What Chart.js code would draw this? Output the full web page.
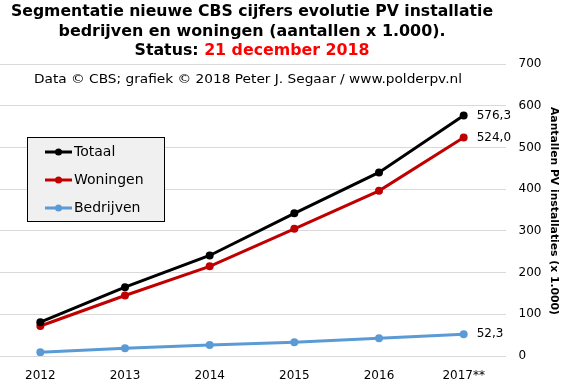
<!DOCTYPE html>
<html>
<head>
<meta charset="utf-8">
<script src="https://cdn.jsdelivr.net/npm/chart.js@4.4.1/dist/chart.umd.min.js"></script>
<style>
html, body { margin: 0; padding: 0; background: #fff; }
#wrap { position: relative; width: 567px; height: 387px; overflow: hidden; }
#box { position: absolute; left: -6px; top: 0; width: 573px; height: 387px; }
</style>
</head>
<body>
<div id="wrap"><div id="box"><canvas id="chart"></canvas></div></div>
<script>
// data (x 1.000)
var years = ["2012", "2013", "2014", "2015", "2016", "2017**"];
var totaal = [81, 165, 241, 342, 440, 576.3];
var woningen = [72, 145, 215, 305, 396, 524.0];
var bedrijven = [9, 18.5, 26.4, 33, 42.4, 52.3];
var seriesNames = ["Totaal", "Woningen", "Bedrijven"];
var seriesColors = ["#000000", "#c00000", "#5b9bd5"];

var titleLine1 = "Segmentatie nieuwe CBS cijfers evolutie PV installatie";
var titleLine2 = "bedrijven en woningen (aantallen x 1.000).";
var titleStatus = "Status: ";
var titleDate = "21 december 2018";
var subTitle = "Data \u00a9 CBS; grafiek \u00a9 2018 Peter J. Segaar / www.polderpv.nl";
var yTitle = "Aantallen PV installaties (x 1.000)";

var FONT = "'DejaVu Sans', Verdana, sans-serif";
var SHIFT = 6; // canvas sits 6px left of the page

// draw text squeezed horizontally to a target width
function fitText(ctx, parts, cx, cy, size, weight, width) {
    ctx.save();
    ctx.font = weight + " " + size + "px " + FONT;
    var total = 0;
    parts.forEach(function (p) { total += ctx.measureText(p[0]).width; });
    var sx = width / total;
    ctx.translate(cx - width / 2, cy);
    ctx.scale(sx, 1);
    ctx.textBaseline = "middle";
    ctx.textAlign = "left";
    var x = 0;
    parts.forEach(function (p) {
        ctx.fillStyle = p[1];
        ctx.fillText(p[0], x, 0);
        x += ctx.measureText(p[0]).width;
    });
    ctx.restore();
}

var extras = {
    id: "extras",
    afterDraw: function (chart) {
        var ctx = chart.ctx;

        // titles
        fitText(ctx, [[titleLine1, "#000"]], 252 + SHIFT, 12, 15, "bold", 482);
        fitText(ctx, [[titleLine2, "#000"]], 252 + SHIFT, 32, 15, "bold", 387);
        fitText(ctx, [[titleStatus, "#000"], [titleDate, "#ff0000"]], 252 + SHIFT, 51, 15, "bold", 235);
        fitText(ctx, [[subTitle, "#000"]], 248 + SHIFT, 79.5, 12, "normal", 428);

        // y-axis title, rotated
        ctx.save();
        ctx.translate(554 + SHIFT, 211);
        ctx.rotate(Math.PI / 2);
        fitText(ctx, [[yTitle, "#000"]], 0, 0, 11, "bold", 208);
        ctx.restore();

        // value labels at the last point
        var xs = chart.scales.x, ys = chart.scales.y;
        var last = years.length - 1;
        ctx.save();
        ctx.font = "12px " + FONT;
        ctx.fillStyle = "#000";
        ctx.textBaseline = "middle";
        ctx.textAlign = "left";
        chart.data.datasets.forEach(function (ds) {
            var v = ds.data[last];
            ctx.fillText(v.toFixed(1).replace(".", ","), xs.getPixelForValue(last) + 13, ys.getPixelForValue(v));
        });
        ctx.restore();

        // legend box
        var lx = 27 + SHIFT, ly = 137;
        ctx.save();
        ctx.fillStyle = "#f0f0f0";
        ctx.fillRect(lx, ly, 137, 84);
        ctx.strokeStyle = "#000";
        ctx.lineWidth = 1;
        ctx.strokeRect(lx + 0.5, ly + 0.5, 137, 84);
        ctx.font = "14px " + FONT;
        ctx.textBaseline = "middle";
        chart.data.datasets.forEach(function (ds, i) {
            var y = 152 + i * 28;
            ctx.strokeStyle = ds.borderColor;
            ctx.lineWidth = 3;
            ctx.beginPath();
            ctx.moveTo(45 + SHIFT, y);
            ctx.lineTo(72 + SHIFT, y);
            ctx.stroke();
            ctx.fillStyle = ds.borderColor;
            ctx.beginPath();
            ctx.arc(58.5 + SHIFT, y, 3.5, 0, Math.PI * 2);
            ctx.fill();
            ctx.fillStyle = "#000";
            ctx.fillText(ds.label, 74 + SHIFT, y + 0.5);
        });
        ctx.restore();
    }
};

function makeSet(i, data) {
    return {
        label: seriesNames[i],
        data: data,
        borderColor: seriesColors[i],
        backgroundColor: seriesColors[i],
        borderWidth: 3,
        pointRadius: 4,
        pointBorderWidth: 0,
        tension: 0
    };
}

new Chart(document.getElementById("chart"), {
    type: "line",
    data: {
        labels: years,
        datasets: [makeSet(0, totaal), makeSet(1, woningen), makeSet(2, bedrijven)]
    },
    options: {
        responsive: true,
        maintainAspectRatio: false,
        devicePixelRatio: 1,
        animation: false,
        layout: { padding: { top: 64, left: 0, right: 0, bottom: 0 } },
        plugins: { legend: { display: false }, title: { display: false }, tooltip: { enabled: false } },
        scales: {
            x: {
                offset: true,
                grid: { display: false },
                border: { display: false },
                ticks: { color: "#000", font: { family: FONT, size: 12 }, padding: 5, maxRotation: 0 },
                afterFit: function (s) { s.height = 31; }
            },
            y: {
                position: "right",
                min: 0,
                max: 700,
                grid: { color: "#d9d9d9", lineWidth: 1, drawTicks: false },
                border: { display: false },
                ticks: { stepSize: 100, color: "#000", font: { family: FONT, size: 12 }, padding: 12.5 },
                afterFit: function (s) { s.width = 61; }
            }
        }
    },
    plugins: [extras]
});
</script>
</body>
</html>
